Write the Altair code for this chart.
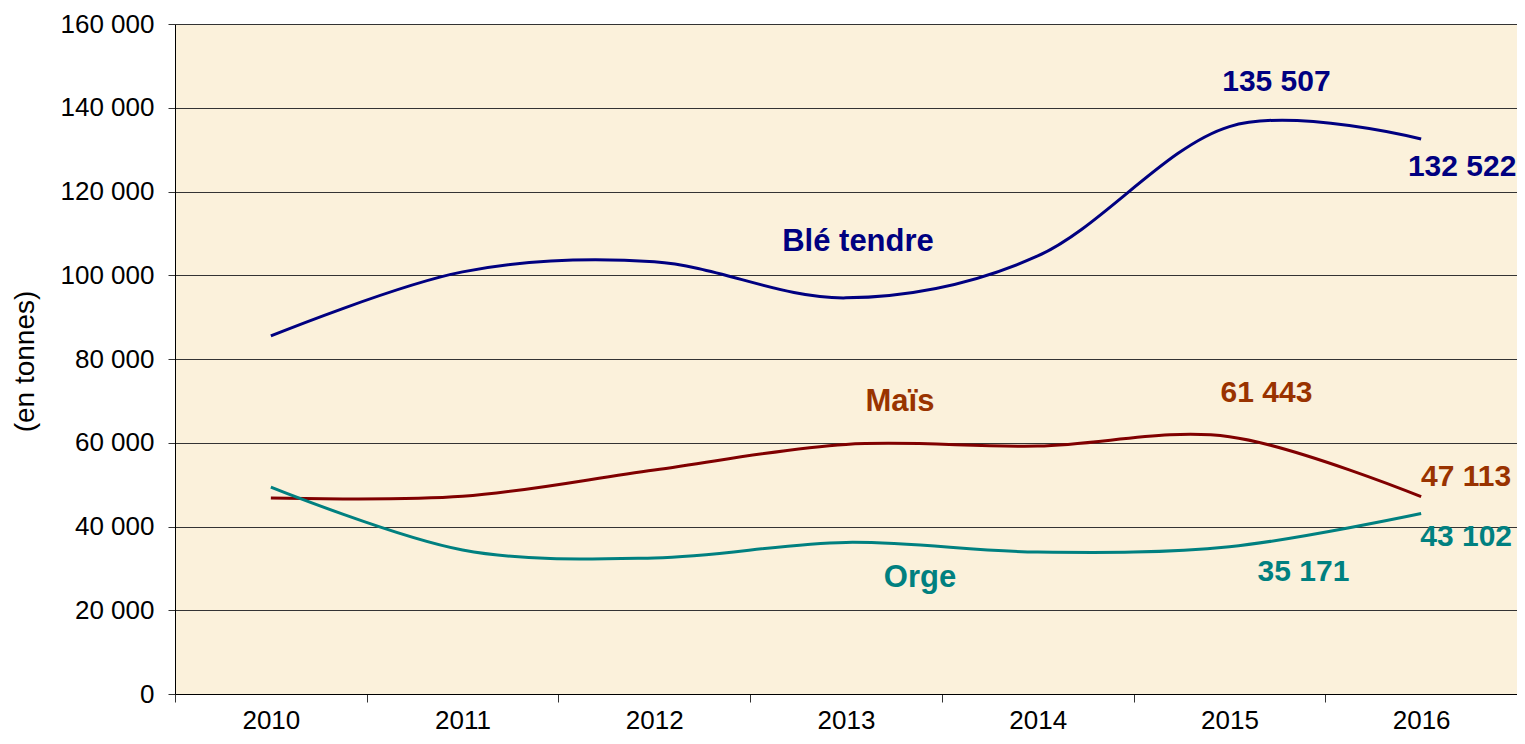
import altair as alt
import pandas as pd

years = ["2010", "2011", "2012", "2013", "2014", "2015", "2016"]
ble = [85500, 100800, 103200, 94600, 104600, 135507, 132522]
mais = [46800, 47200, 53500, 59600, 59200, 61443, 47113]
orge = [49400, 34400, 32500, 36200, 33900, 35171, 43102]

series_names = ["Blé tendre", "Maïs", "Orge"]
line_colors = ["#000080", "#800000", "#008080"]
label_colors = ["#000080", "#993300", "#008080"]

# annotations: text, anchor year, anchor value, series index, horizontal offset (px), font size
ann_text = ["Blé tendre", "135 507", "132 522", "Maïs", "61 443", "47 113", "Orge", "35 171", "43 102"]
ann_year = ["2013", "2015", "2016", "2013", "2015", "2016", "2013", "2015", "2016"]
ann_value = [107900, 146200, 125900, 69700, 71900, 51800, 27700, 29100, 37500]
ann_series = [0, 0, 0, 1, 1, 1, 2, 2, 2]
ann_dx = [12, 47, 41, 54, 37, 45, 74, 74, 45]
ann_size = [31, 30, 30, 31, 30, 30, 31, 30, 30]

rows = []
for name, vals in zip(series_names, [ble, mais, orge]):
    for yr, v in zip(years, vals):
        rows.append({"annee": yr, "valeur": v, "serie": name})
df = pd.DataFrame(rows)

FONT = "Liberation Sans"

x_scale = alt.Scale(type="band", domain=years, paddingInner=0, paddingOuter=0)
y_scale = alt.Scale(domain=[0, 160000], nice=False, zero=True)

x_enc = alt.X(
    "annee:O",
    scale=x_scale,
    bandPosition=0.5,
    axis=alt.Axis(
        title=None,
        labelAngle=0,
        tickBand="extent",
        tickSize=8,
        tickColor="#333333",
        domainColor="#000000",
        labelFont=FONT,
        labelFontSize=26,
        labelColor="#000000",
        labelPadding=5,
        grid=False,
    ),
)

y_enc = alt.Y(
    "valeur:Q",
    scale=y_scale,
    axis=alt.Axis(
        values=list(range(0, 160001, 20000)),
        title="(en tonnes)",
        titleFont=FONT,
        titleFontSize=28,
        titleFontWeight="normal",
        titleColor="#000000",
        titleX=-150,
        titleY=337,
        titleAngle=-90,
        titleAlign="center",
        titleBaseline="middle",
        labelExpr="replace(format(datum.value, ','), ',', ' ')",
        labelFont=FONT,
        labelFontSize=26,
        labelColor="#000000",
        labelPadding=14,
        tickSize=7,
        tickColor="#333333",
        domainColor="#000000",
        grid=True,
        gridColor="#333333",
        gridWidth=1,
    ),
)

lines = alt.Chart(df).mark_line(interpolate="cardinal", strokeWidth=3).encode(
    x=x_enc,
    y=y_enc,
    color=alt.Color(
        "serie:N",
        scale=alt.Scale(domain=series_names, range=line_colors),
        legend=None,
    ),
)

layers = [lines]
for t, yr, v, si, dx, fs in zip(ann_text, ann_year, ann_value, ann_series, ann_dx, ann_size):
    d = pd.DataFrame({"annee": [yr], "valeur": [v], "txt": [t]})
    layers.append(
        alt.Chart(d)
        .mark_text(
            font=FONT,
            fontSize=fs,
            fontWeight="bold",
            color=label_colors[si],
            align="center",
            baseline="middle",
            dx=dx,
        )
        .encode(
            x=alt.X("annee:O", scale=x_scale, bandPosition=0.5),
            y=alt.Y("valeur:Q", scale=y_scale),
            text="txt:N",
        )
    )

chart = (
    alt.layer(*layers)
    .properties(
        width=1342,
        height=670,
        autosize=alt.AutoSizeParams(type="none"),
        padding={"left": 167, "top": 16, "right": 0, "bottom": 42},
        background="#ffffff",
    )
    .configure_view(fill="#FBF1DB", strokeWidth=0)
)

chart.save("out.html", embed_options={"renderer": "svg", "actions": False})
